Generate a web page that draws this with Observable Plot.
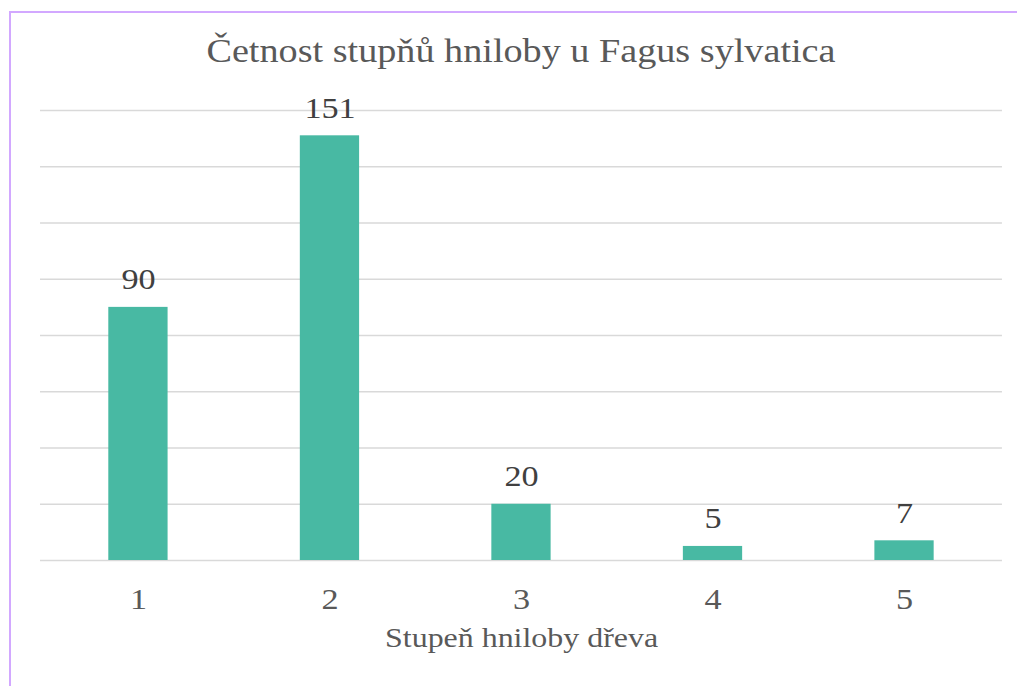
<!DOCTYPE html>
<html lang="cs">
<head>
<meta charset="utf-8">
<script src="https://cdn.jsdelivr.net/npm/d3@7"></script>
<script src="https://cdn.jsdelivr.net/npm/@observablehq/plot@0.6"></script>
<style>
  html, body { margin: 0; padding: 0; background: #ffffff; overflow: hidden; }
  body { width: 1017px; height: 686px; position: relative; }
  #frame {
    position: absolute; left: 9px; top: 11px; width: 1200px; height: 900px;
    border: 2px solid #d2a8ff; box-sizing: border-box;
  }
  #stretch {
    position: absolute; left: 0; top: 0; width: 892px; height: 686px;
    transform: scaleX(1.14); transform-origin: 0 0;
    font-family: "Liberation Serif", "Times New Roman", serif;
  }
  #title {
    position: absolute; left: 0; top: 34px; width: 914px; text-align: center;
    font-size: 33.5px; line-height: 33.5px; color: #595959; white-space: nowrap;
    font-family: "Liberation Serif", "Times New Roman", serif;
  }
  #chart { position: absolute; left: 0; top: 88px; }
  #chart svg, #chart svg text { font-family: "Liberation Serif", "Times New Roman", serif !important; }
</style>
</head>
<body>
<div id="frame"></div>
<div id="stretch">
  <div id="title">Četnost stupňů hniloby u Fagus sylvatica</div>
  <div id="chart"></div>
</div>
<script>
const categories = ["1", "2", "3", "4", "5"];
const counts = [90, 151, 20, 5, 7];
const yTicks = [0, 20, 40, 60, 80, 100, 120, 140, 160];
const xTitle = "Stupeň hniloby dřeva";

const data = categories.map((c, i) => ({stupen: c, pocet: counts[i]}));
const serif = '"Liberation Serif", "Times New Roman", serif';

const chart = Plot.plot({
  width: 892,
  height: 598,
  marginTop: 22,
  marginBottom: 126,
  marginLeft: 35.1,
  marginRight: 13.1,
  style: {
    fontFamily: serif,
    background: "transparent",
    overflow: "visible"
  },
  x: {domain: categories, paddingInner: 0.688, paddingOuter: 0.344, label: null},
  y: {domain: [0, 160], axis: null},
  marks: [
    Plot.gridY(yTicks, {stroke: "#d9d9d9", strokeOpacity: 1, strokeWidth: 1.5}),
    Plot.barY(data, {x: "stupen", y: "pocet", fill: "#48b9a3"}),
    Plot.axisX({tickSize: 0, tickPadding: 27, fontSize: 30, fontFamily: serif, color: "#595959", label: null}),
    Plot.text(data, {x: "stupen", y: "pocet", text: d => String(d.pocet),
      lineAnchor: "bottom", dy: -18, fontSize: 30, fontFamily: serif, fill: "#404040"}),
    Plot.text([xTitle], {text: d => d, frameAnchor: "bottom", dy: 86, fontSize: 28, fontFamily: serif, fill: "#595959"})
  ]
});
document.getElementById("chart").appendChild(chart);
</script>
</body>
</html>
